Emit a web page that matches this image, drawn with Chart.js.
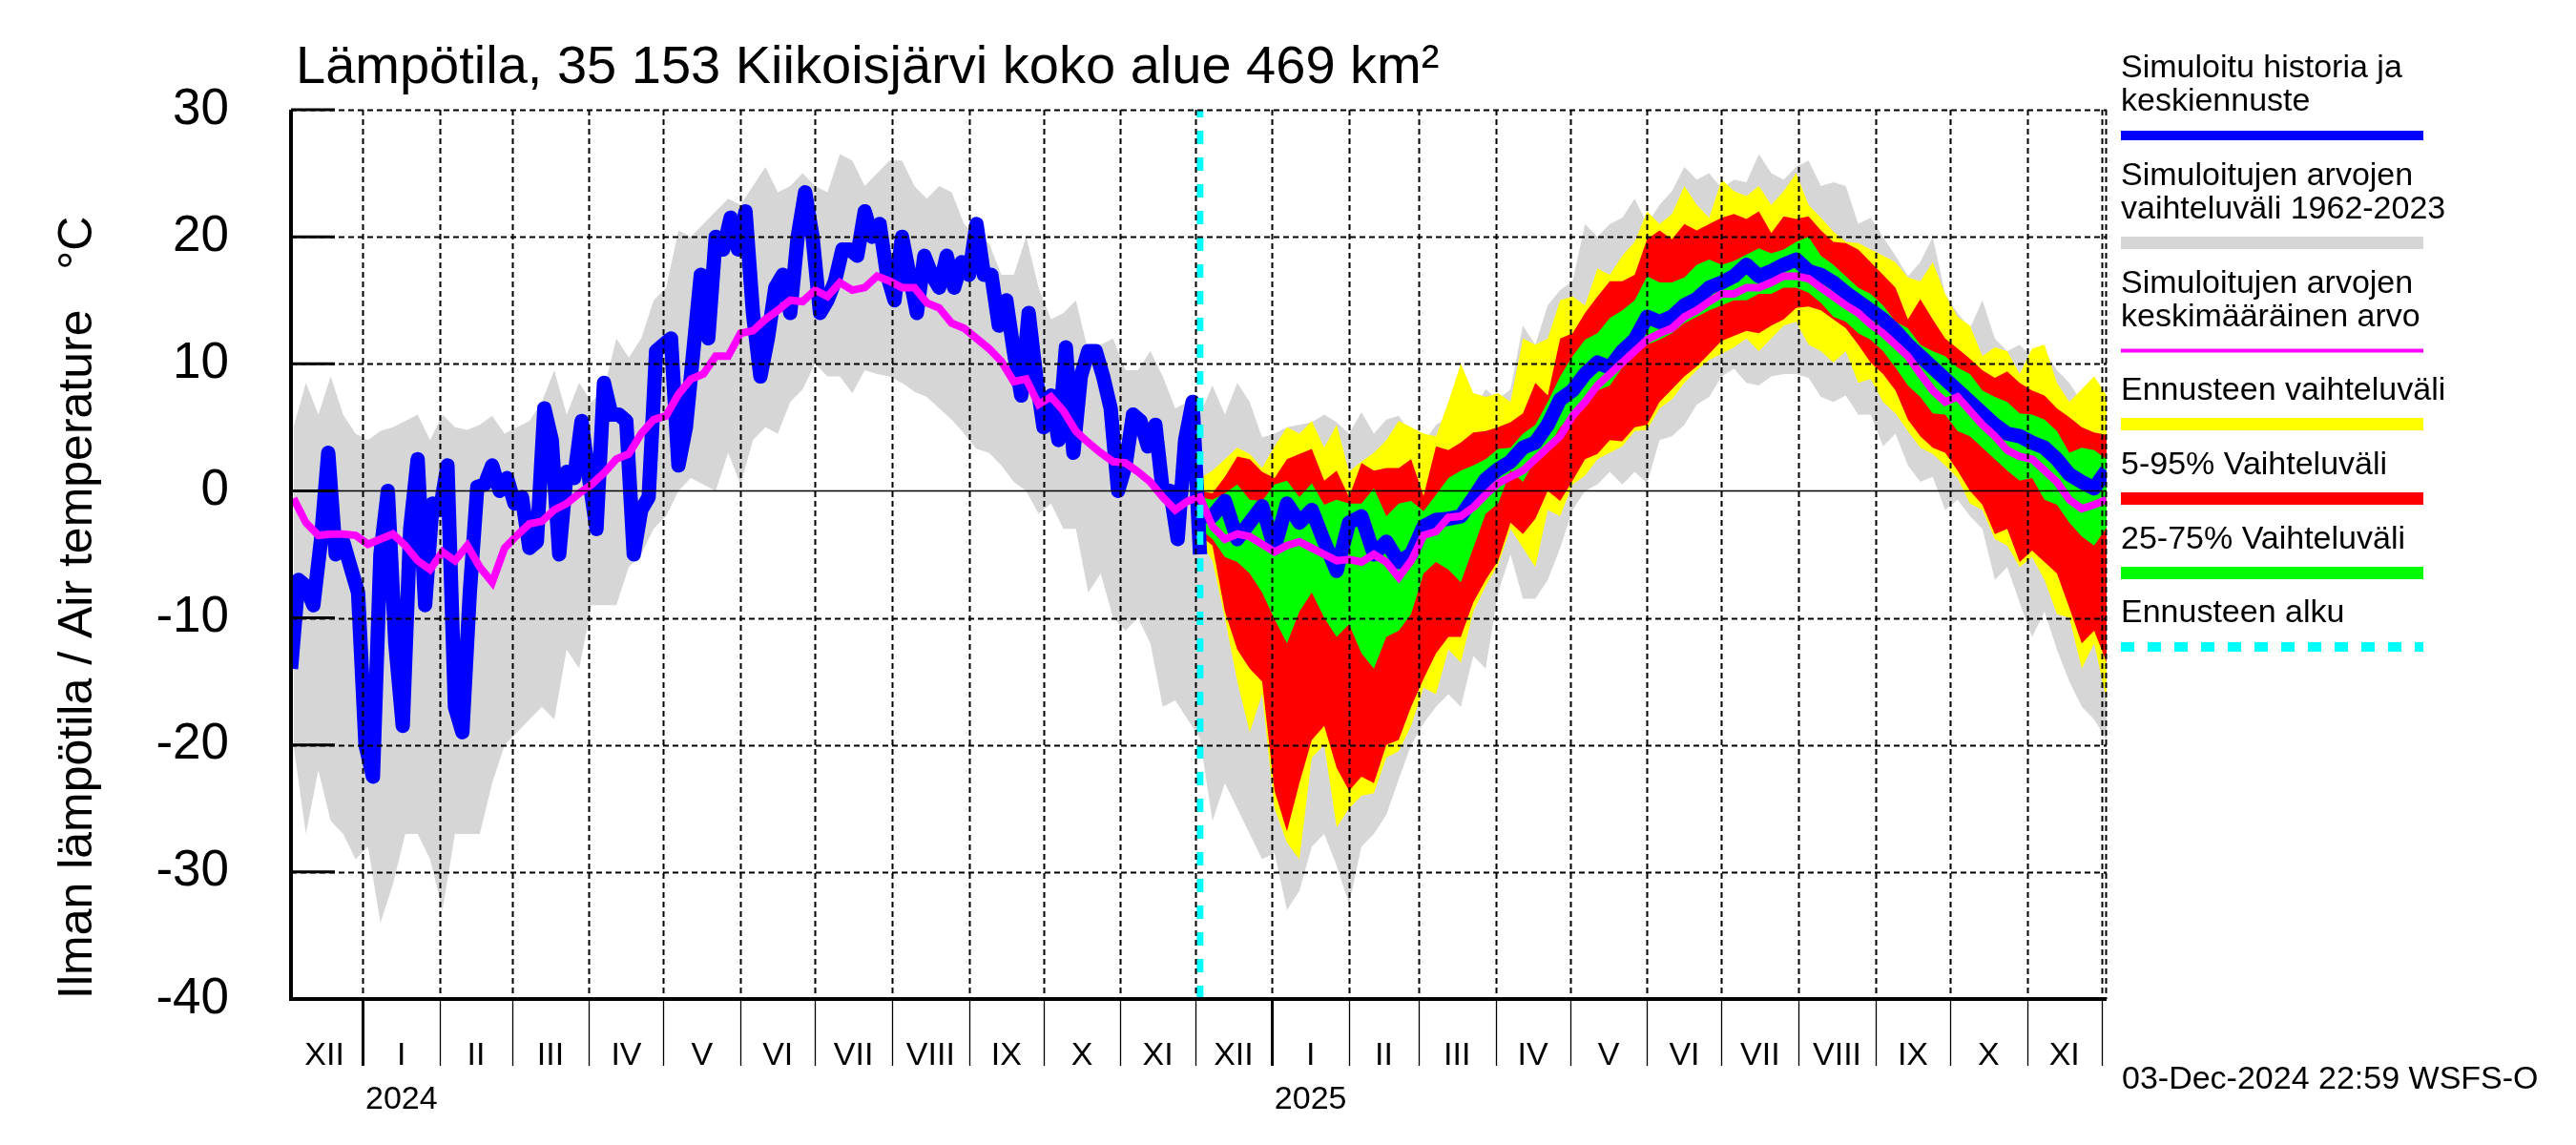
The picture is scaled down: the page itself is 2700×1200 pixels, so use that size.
<!DOCTYPE html>
<html>
<head>
<meta charset="utf-8">
<script src="https://cdn.jsdelivr.net/npm/chart.js@4.4.1/dist/chart.umd.min.js"></script>
<style>
    html, body { margin: 0; padding: 0; background: #fff; }
    canvas { display: block; }
</style>
</head>
<body>
<canvas id="lampotila" width="2700" height="1200"></canvas>
<script>
// paivat lasketaan 3.12.2023 alkaen
var alku = Date.UTC(2023, 11, 3);
var ennusteAlku = 366;
var loppu = 731;
var yMin = -40, yMax = 30;

var roomalaiset = ['I', 'II', 'III', 'IV', 'V', 'VI', 'VII', 'VIII', 'IX', 'X', 'XI', 'XII'];

// simuloitu historia, 3 paivan valein (paivat 0..366)
var histAskel = 3;
var histLampo = [-14, -7, -7.5, -9, -4, 3, -5, -4, -6, -8, -20, -22.5, -5, 0, -12, -18.5, -3, 2.5, -9, -1,
    -1.5, 2, -17, -19, -8, 0.3, 0.5, 2, 0, 1, -1, -0.5, -4.5, -4, 6.5, 4, -5, 1.5, 1, 5.5, 1,
    -3, 8.5, 6, 6, 5.5, -5, -1.5, -0.5, 11, 11.5, 12, 2, 5, 11, 17, 12, 20, 19, 21.5, 19,
    22, 14, 9, 12, 16, 17, 14, 20, 23.5, 20, 14, 15, 16.5, 19, 19, 18.5, 22, 20, 21, 17, 15,
    20, 17, 14, 18.5, 17, 16, 18.5, 16, 18, 17, 21, 17, 17, 13, 15, 11, 7.5, 14, 9, 5,
    7.5, 4, 11.3, 3, 9, 11, 11, 9, 6.5, 0, 2, 6, 5.5, 3.5, 5.2, 0, 0, -3.8, 4, 7, -5];

// simuloitujen arvojen vaihteluvali 1962-2023 ja keskiarvo, 5 paivan valein (paivat 1..731)
var ilmAlku = 1, ilmAskel = 5;
var vaihteluYla = [5, 8.5, 6, 9, 6, 4.5, 4, 4.7, 5, 5.5, 6, 4, 6, 5, 4.8, 5.2, 5.9, 4.5, 5, 5.5, 7, 9.5, 6, 8.5, 7,
    8, 12, 10.5, 12, 15, 16, 20.5, 20, 21, 22, 23, 22.5, 24, 25.5, 23.5, 24, 25, 24, 23.5, 26.5, 26, 24, 25, 26,
    26, 24, 23, 24, 23.5, 21, 20, 19.5, 17, 17, 20, 16, 13.5, 14, 15, 11, 11.5, 12, 9.5, 9.5, 11, 9, 6.5, 7, 6,
    8.3, 6, 8.5, 7, 4.2, 4.5, 5, 5.2, 5.4, 6, 5.4, 4.5, 6.2, 4.5, 5.6, 5.9, 4.5, 3.8, 5.2, 5.8, 9.5, 6.3, 8, 7.2,
    8, 13, 11.5, 14.6, 15.8, 16.5, 21, 20, 21, 21.5, 23, 21, 22.5, 23.6, 25.5, 24.5, 25, 23.8, 24.5, 24.3, 26.5, 25, 24.5, 25.5, 26,
    24, 24.3, 24, 21, 21.5, 20, 18.5, 16.9, 18, 20, 15.5, 14, 12.8, 15, 12, 11, 11.5, 10.5, 11, 9.5, 8.5, 7, 7.4, 5.2];
var vaihteluAla = [-20, -27, -22, -26, -27, -29, -28, -34, -31, -27, -27, -29, -33, -27, -27, -27, -23, -20, -19, -18, -17, -18, -12.5, -14, -9,
    -9, -9, -6, -5, -3, -2, 0, 1, 0.5, 0, 3, 0.5, 4, 5, 4.5, 7, 8, 10, 9, 9, 7.7, 9.5, 9.2, 9,
    8.5, 7.8, 7.4, 6.5, 5.6, 4.5, 3.3, 3, 2, 0.7, 0, -1.8, -1, -3, -3, -8, -6.5, -10, -11, -10, -12, -17, -16.5, -18, -19.5,
    -26, -23, -25, -27, -29, -28.5, -33, -31.5, -28, -27, -29.5, -32.5, -28, -27, -25.5, -22.7, -20, -18.3, -17, -16, -17, -13, -14, -8,
    -5, -8.5, -8.5, -7, -4.5, -1.5, 0, 0.5, 1.5, 0.5, 1.5, 0.6, 4, 4.3, 5.2, 6.8, 7.4, 9, 9.6, 8.5, 8.3, 9, 9.2, 9.2, 8.9,
    7.4, 7, 7.5, 6, 6, 3.5, 4.5, 2, 0.7, 1.1, -1.5, -0.7, -2, -3, -7, -6, -8.8, -11.5, -9.5, -12.5, -15, -17, -18, -19.6];
var keskiarvo = [-0.6, -2.5, -3.5, -3.4, -3.4, -3.5, -4.2, -3.8, -3.4, -4.3, -5.5, -6.2, -4.8, -5.5, -4.3, -6, -7.2, -4.5, -3.5, -2.6, -2.4, -1.5, -1, -0.2, 0.5,
    1.4, 2.5, 2.9, 4.5, 5.6, 5.9, 7.6, 8.8, 9.2, 10.6, 10.6, 12.4, 12.6, 13.5, 14.2, 15, 14.9, 15.8, 15.3, 16.4, 15.8, 16, 16.9, 16.5,
    16, 16, 14.8, 14.4, 13.2, 12.8, 12, 11.2, 10.2, 8.6, 8.8, 6.8, 7.4, 6.3, 4.7, 3.8, 3, 2.3, 2.2, 1.5, 0.7, -0.5, -1.5, -0.8, -0.5,
    -2.8, -3.8, -3.4, -3.6, -4.2, -4.8, -4.3, -4, -4.5, -5, -5.5, -5.4, -5.6, -5, -5.6, -6.8, -5.5, -3.5, -3.2, -2.1, -2, -1.3, -0.3, 0.6,
    1.1, 1.6, 2.5, 3.4, 4.3, 5.9, 7, 8.3, 9.2, 10.1, 11, 11.9, 12.4, 12.8, 13.7, 14.2, 14.9, 15.5, 15.5, 16, 16, 16.4, 16.9, 16.9, 16.7,
    16, 15.3, 14.6, 14, 13.1, 12.4, 11.5, 10.6, 9.2, 7.9, 7, 7.4, 6.3, 5.2, 4.3, 3.2, 2.7, 2.5, 1.6, 0.7, -0.7, -1.4, -1.1, -0.7];

// ennuste, 5 paivan valein ennusteen alusta (paivat 366..731)
var ennAskel = 5;
var ennMax = [1, 1.6, 2.5, 3.4, 2.9, 1.8, 3.5, 5, 4.5, 5.5, 3.4, 5.2, 1.5, 2.3, 3, 4, 5.5, 5, 4.5, 4.3, 7, 10, 7.7, 7.4, 7.7,
    7, 12, 11.5, 12, 15, 15.3, 14.6, 17.5, 17, 18.5, 19.6, 22, 21, 21.8, 24, 22.5, 21.5, 24.5, 23.6, 23.2, 24, 22.5, 23.6, 25, 22.5,
    21.5, 20.4, 19.6, 19.5, 19, 18.5, 18, 16.8, 16.5, 18, 15.5, 13.7, 13, 10.6, 11.3, 11, 9.2, 11.2, 11.5, 8.5, 7, 8, 9, 7.5];
var ennMin = [-4, -5.5, -10, -15, -19, -16, -25, -27.7, -29, -21, -20, -26.5, -25, -24, -23.8, -21, -20.5, -18.5, -15.5, -16, -12.5, -13.5, -9.5, -7.5, -5.8,
    -3, -4.5, -6, -1.5, -2, 0.5, 1.2, 2.5, 3, 3.5, 4.7, 4.8, 6.5, 7.2, 8.5, 9.5, 10.3, 10.8, 11.3, 12, 11, 12, 13, 13.3, 11.5,
    11, 10.1, 11, 8.5, 8.8, 7, 6.1, 4.7, 3.4, 2.9, 2, 1, -1, -1.5, -3.8, -4.3, -6, -5.2, -7, -9.7, -10, -14, -12, -16.5];
var p95 = [0, -0.2, 1.1, 2.7, 2.5, 1.5, 1, 2.5, 2.9, 3.3, 0.8, 1.6, -0.5, 2.2, 1.6, 1.8, 1.8, 2.5, -0.4, 3.5, 3.2, 3.8, 4.6, 4.7, 5,
    5.4, 6.1, 8.5, 7.5, 12, 12.4, 14, 15.3, 16.5, 16.5, 17, 19.8, 20.5, 19.8, 21, 20.5, 21, 21.5, 21.8, 21.4, 22, 20.3, 21.6, 21.4, 21.6,
    20.5, 19.6, 19.5, 19, 18, 17, 16, 13.5, 15.1, 13.5, 12, 11.2, 10.4, 9.5, 8.9, 9.4, 8.5, 7.9, 7.5, 6.5, 5.8, 5, 4.6, 4.4];
var p05 = [-3.5, -4.3, -9.5, -12.5, -14, -15, -23.6, -26.8, -23, -19.6, -18.5, -21.8, -23.6, -22.5, -23, -20, -19.6, -17, -14.8, -12.8, -11.5, -11.5, -8.8, -7, -5.5,
    -2.5, -3.4, -2.2, 0, -0.8, 0.8, 2.5, 2.9, 4, 3.9, 5, 5.2, 7, 8, 9, 9.8, 10.8, 11.8, 12.2, 12.6, 12.4, 13, 13.5, 14.4, 14.5,
    14.2, 13.5, 12.8, 11.5, 10.1, 9.2, 7.9, 5.6, 4.3, 3.4, 3, 1.6, 0, -1.1, -3.4, -3, -5.6, -4.7, -5.6, -6.5, -9.2, -12, -11, -13.5];
var p75 = [-0.5, -0.7, -0.2, 0.5, -0.7, -0.8, 0.5, 0.8, -0.5, 0.6, -1.1, -0.7, -1, -1, 0.2, -2, -1, -0.8, -1.6, -0.3, 1, 1.6, 2, 2.5, 3.3,
    3.4, 4.5, 5.2, 7, 9, 10.6, 11.9, 12.4, 13.6, 14.2, 15, 16.9, 16.4, 16.4, 16.8, 17.8, 18.2, 17.8, 18.1, 18.6, 19.1, 18.7, 19, 19.6, 20,
    18.5, 17.8, 16.9, 16, 15.5, 14.6, 13.3, 12.8, 11.5, 11, 10.6, 9.7, 9.2, 7.9, 7.4, 7, 6.1, 6, 5.6, 4.7, 3, 3.4, 3.2, 2.5];
var p25 = [-3, -3.8, -5.2, -5.6, -6.5, -8, -10.1, -12, -9.5, -8, -10, -11.5, -10.5, -12.8, -14, -11.5, -11, -9.7, -6.5, -5.6, -6.2, -7.2, -4.5, -1.8, -1,
    1.6, 0.7, 2.5, 3.4, 5, 6.1, 7, 7.9, 8.3, 9.7, 11, 11.5, 11.9, 12.4, 13.2, 13.7, 14.2, 14.6, 15, 15, 15.5, 15.5, 16, 16, 15.6,
    14.8, 13.7, 13.3, 12.4, 11.9, 11, 9.7, 8.3, 7.4, 6.1, 6, 4.7, 4.3, 3.4, 2.5, 1.6, 0.8, 1, -0.7, -1.1, -2.5, -3.6, -4.3, -2.9];
var keskiennuste = [-2, -2, -0.8, -3.8, -2.5, -1.2, -4.5, -1, -2.5, -1.5, -4, -6.3, -2.5, -2, -5, -4, -5.6, -5, -2.8, -2.3, -2.2, -2, -0.6, 0.9, 1.7,
    2.3, 3.4, 3.8, 5.2, 7.2, 7.9, 9.2, 10.1, 9.7, 11, 11.9, 13.7, 13.3, 13.7, 14.6, 15.1, 16, 16.4, 16.9, 17.8, 16.9, 17.3, 17.8, 18.2, 17.3,
    17, 16.4, 15.6, 14.9, 14.2, 13.5, 12.6, 11.5, 10.6, 9.7, 8.8, 7.9, 7, 6.1, 5.2, 4.5, 4.3, 3.8, 3.4, 2.5, 1.3, 0.7, 0.2, 1.6];

var otsikko = 'Lämpötila, 35 153 Kiikoisjärvi koko alue 469 km²';
var aikaleima = '03-Dec-2024 22:59 WSFS-O';
var fontti = '"Liberation Sans", Arial, Helvetica, sans-serif';

function paiva(v, k, p) {
    return (Date.UTC(v, k, p) - alku) / 86400000;
}

// kuukausien alut joulukuu 2023 .. tammikuu 2026
var kuunAlut = [];
for (var k = 0; k < 26; k++) {
    kuunAlut.push(paiva(2023, 11 + k, 1));
}
var tikit = [];
var tikkiTekstit = [];
for (var k = 0; k < 25; k++) {
    var keski = (kuunAlut[k] + kuunAlut[k + 1]) / 2;
    if (keski > loppu) continue;
    var kk = (11 + k) % 12;
    var vuosi = 2023 + Math.floor((11 + k) / 12);
    tikit.push(keski);
    tikkiTekstit.push(kk === 0 ? [roomalaiset[kk], String(vuosi)] : roomalaiset[kk]);
}

function sarja(arvot, eka, askel) {
    return arvot.map(function (a, i) { return { x: eka + i * askel, y: a }; });
}

var ruudukko = {
    id: 'ruudukko',
    afterDatasetsDraw: function (chart) {
        var ctx = chart.ctx, a = chart.chartArea;
        var x = chart.scales.x, y = chart.scales.y;
        ctx.save();
        ctx.strokeStyle = '#000';
        ctx.lineWidth = 2;
        ctx.setLineDash([6, 4]);
        ctx.beginPath();
        for (var v = yMin + 10; v <= yMax; v += 10) {
            if (v === 0) continue;
            var py = Math.round(y.getPixelForValue(v)) + 0.5;
            ctx.moveTo(a.left, py);
            ctx.lineTo(a.right, py);
        }
        kuunAlut.forEach(function (d) {
            if (d <= 0 || d > loppu) return;
            var px = Math.round(x.getPixelForValue(d)) + 0.5;
            ctx.moveTo(px, a.top);
            ctx.lineTo(px, a.bottom);
        });
        ctx.moveTo(a.right - 0.5, a.top);
        ctx.lineTo(a.right - 0.5, a.bottom);
        ctx.stroke();

        ctx.setLineDash([]);
        ctx.lineWidth = 1.5;
        var p0 = y.getPixelForValue(0);
        ctx.beginPath();
        ctx.moveTo(a.left, p0);
        ctx.lineTo(a.right, p0);
        ctx.stroke();

        // y-akselin tikit sisaanpain
        ctx.lineWidth = 3;
        ctx.beginPath();
        for (var v = yMin; v <= yMax; v += 10) {
            var py = y.getPixelForValue(v);
            ctx.moveTo(a.left, py);
            ctx.lineTo(a.left + 46, py);
        }
        ctx.stroke();

        // kuukausitikit akselin alla
        kuunAlut.forEach(function (d) {
            if (d <= 0 || d > loppu) return;
            var px = Math.round(x.getPixelForValue(d)) + 0.5;
            var vuodenVaihde = new Date(alku + d * 86400000).getUTCMonth() === 0;
            ctx.lineWidth = vuodenVaihde ? 3 : 1.3;
            ctx.beginPath();
            ctx.moveTo(px, a.bottom);
            ctx.lineTo(px, a.bottom + 70);
            ctx.stroke();
        });

        ctx.lineWidth = 4;
        ctx.beginPath();
        ctx.moveTo(a.left, a.top);
        ctx.lineTo(a.left, a.bottom);
        ctx.lineTo(a.right, a.bottom);
        ctx.stroke();
        ctx.restore();
    }
};

var selite = [
    { rivit: ['Simuloitu historia ja', 'keskiennuste'], y: 72, vari: '#0000ff', viivaY: 142, paksuus: 10 },
    { rivit: ['Simuloitujen arvojen', 'vaihteluväli 1962-2023'], y: 185, vari: '#d6d6d6', viivaY: 254.5, paksuus: 13 },
    { rivit: ['Simuloitujen arvojen', 'keskimääräinen arvo'], y: 298, vari: '#ff00ff', viivaY: 367.5, paksuus: 4 },
    { rivit: ['Ennusteen vaihteluväli'], y: 410, vari: '#ffff00', viivaY: 444.5, paksuus: 13 },
    { rivit: ['5-95% Vaihteluväli'], y: 488, vari: '#ff0000', viivaY: 522.5, paksuus: 13 },
    { rivit: ['25-75% Vaihteluväli'], y: 566, vari: '#00ff00', viivaY: 600.5, paksuus: 13 },
    { rivit: ['Ennusteen alku'], y: 643, vari: '#00ffff', viivaY: 678, paksuus: 10, katko: [14, 14] }
];

var tekstit = {
    id: 'tekstit',
    afterDraw: function (chart) {
        var ctx = chart.ctx;
        ctx.save();
        ctx.fillStyle = '#000';
        ctx.textBaseline = 'alphabetic';
        ctx.font = '56px ' + fontti;
        ctx.fillText(otsikko, 310, 87);

        ctx.textBaseline = 'middle';
        ctx.font = '34px ' + fontti;
        ctx.fillText(aikaleima, 2224, 1132);

        selite.forEach(function (s) {
            ctx.fillStyle = '#000';
            s.rivit.forEach(function (r, i) {
                ctx.fillText(r, 2223, s.y + i * 35);
            });
            ctx.strokeStyle = s.vari;
            ctx.lineWidth = s.paksuus;
            ctx.setLineDash(s.katko || []);
            ctx.beginPath();
            ctx.moveTo(2223, s.viivaY);
            ctx.lineTo(2540, s.viivaY);
            ctx.stroke();
        });
        ctx.restore();
    }
};

function kaista(arvot, eka, askel, vari, tayta, jarjestys) {
    return {
        data: sarja(arvot, eka, askel),
        borderWidth: 0,
        backgroundColor: vari,
        fill: tayta ? '+1' : false,
        pointRadius: 0,
        order: jarjestys
    };
}

Chart.defaults.color = '#000';
Chart.defaults.font.family = fontti;

var ctx = document.getElementById('lampotila').getContext('2d');
var kaavio = new Chart(ctx, {
    type: 'line',
    data: {
        datasets: [
            kaista(vaihteluYla, ilmAlku, ilmAskel, '#d6d6d6', true, 10),
            kaista(vaihteluAla, ilmAlku, ilmAskel, '#d6d6d6', false, 10),
            kaista(ennMax, ennusteAlku, ennAskel, '#ffff00', true, 9),
            kaista(ennMin, ennusteAlku, ennAskel, '#ffff00', false, 9),
            kaista(p95, ennusteAlku, ennAskel, '#ff0000', true, 8),
            kaista(p05, ennusteAlku, ennAskel, '#ff0000', false, 8),
            kaista(p75, ennusteAlku, ennAskel, '#00ff00', true, 7),
            kaista(p25, ennusteAlku, ennAskel, '#00ff00', false, 7),
            {
                data: sarja(keskiennuste, ennusteAlku, ennAskel),
                borderColor: '#0000ff',
                borderWidth: 15,
                borderJoinStyle: 'round',
                pointRadius: 0,
                fill: false,
                order: 6
            },
            {
                data: sarja(histLampo, 0, histAskel),
                borderColor: '#0000ff',
                borderWidth: 15,
                borderJoinStyle: 'round',
                pointRadius: 0,
                fill: false,
                order: 6
            },
            {
                data: sarja(keskiarvo, ilmAlku, ilmAskel),
                borderColor: '#ff00ff',
                borderWidth: 8,
                pointRadius: 0,
                fill: false,
                order: 5
            },
            {
                data: [{ x: ennusteAlku, y: yMin }, { x: ennusteAlku, y: yMax }],
                borderColor: '#00ffff',
                borderWidth: 7,
                borderDash: [14, 14],
                borderCapStyle: 'butt',
                pointRadius: 0,
                fill: false,
                order: 4
            }
        ]
    },
    options: {
        responsive: false,
        animation: false,
        devicePixelRatio: 1,
        layout: { padding: { left: 0, top: 115, right: 492, bottom: 0 } },
        plugins: {
            legend: { display: false },
            tooltip: { enabled: false }
        },
        elements: { line: { tension: 0 } },
        scales: {
            x: {
                type: 'linear',
                min: 0,
                max: loppu,
                grid: { display: false, drawTicks: false },
                border: { display: false },
                afterBuildTicks: function (s) {
                    s.ticks = tikit.map(function (t) { return { value: t }; });
                },
                afterFit: function (s) { s.height = 153; },
                ticks: {
                    autoSkip: false,
                    maxRotation: 0,
                    padding: 37,
                    font: { size: 34, lineHeight: '46px' },
                    callback: function (v, i) { return tikkiTekstit[i]; }
                }
            },
            y: {
                min: yMin,
                max: yMax,
                grid: { display: false, drawTicks: false },
                border: { display: false },
                afterFit: function (s) { s.width = 305; },
                ticks: {
                    stepSize: 10,
                    padding: 65,
                    font: { size: 53 }
                },
                title: {
                    display: true,
                    text: 'Ilman lämpötila / Air temperature   °C',
                    align: 'start',
                    font: { size: 50 },
                    padding: { top: 52, bottom: 0 }
                }
            }
        }
    },
    plugins: [ruudukko, tekstit]
});
</script>
</body>
</html>
